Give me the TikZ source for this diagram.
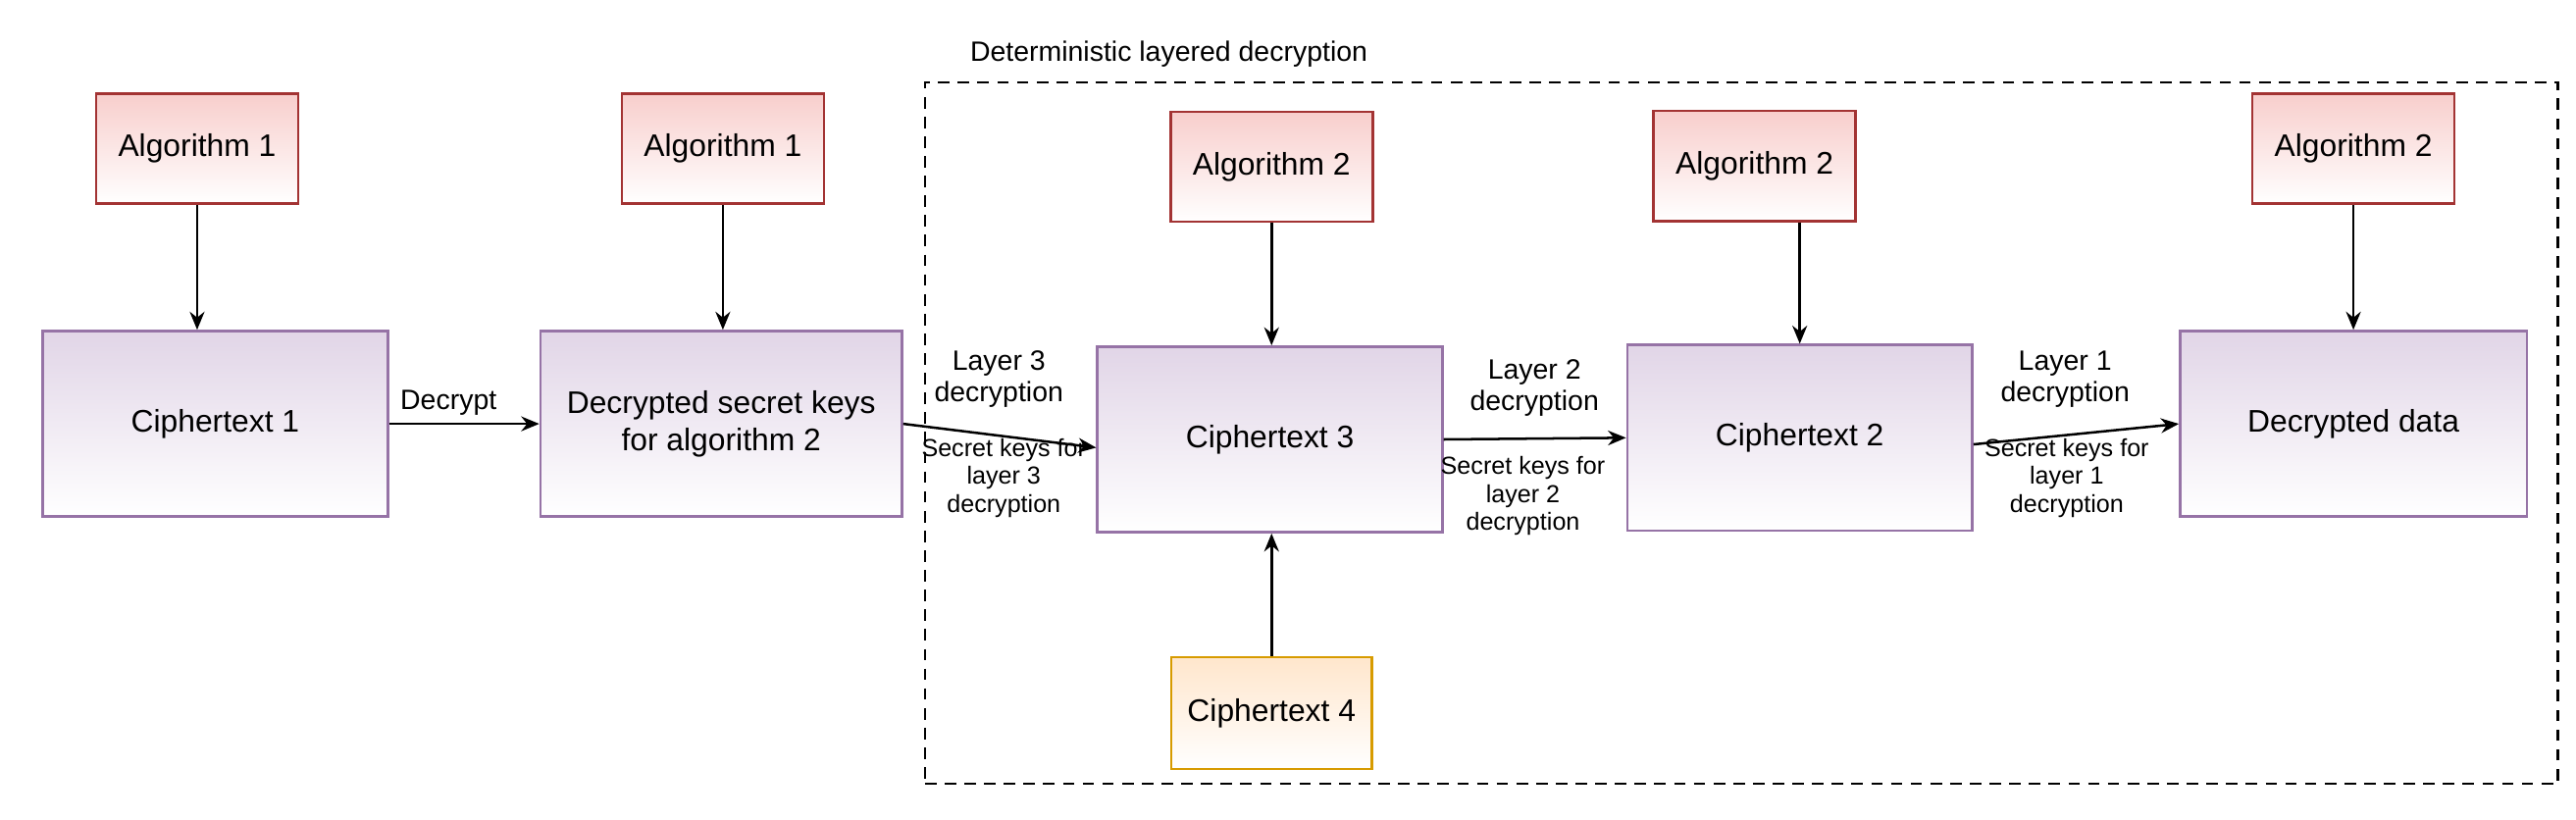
\documentclass[tikz,border=0pt]{standalone}
\usepackage{fontspec}
\setmainfont{Liberation Sans}
\usetikzlibrary{arrows.meta}
\begin{document}
\begin{tikzpicture}[x=1pt,y=-1pt,
  box/.style={draw,line width=1.5pt,inner sep=0pt,font=\fontsize{19}{23}\selectfont,align=center},
  alg/.style={box,draw=red!55!black!80,top color={rgb,255:red,248;green,206;blue,204},bottom color=white,minimum width=123pt,minimum height=67pt},
  ct/.style={box,draw={rgb,255:red,150;green,115;blue,166},top color={rgb,255:red,225;green,213;blue,231},bottom color=white,minimum width=210pt,minimum height=113pt},
  org/.style={box,draw={rgb,255:red,215;green,155;blue,0},top color={rgb,255:red,255;green,230;blue,204},bottom color=white,minimum width=122pt,minimum height=68pt},
  arr/.style={-{Stealth[length=11pt,width=9pt]},line width=1.5pt},
  lab/.style={font=\fontsize{17}{19}\selectfont,align=center},
  slab/.style={font=\fontsize{15}{17}\selectfont,align=center}]
\useasboundingbox (0,0) rectangle (1568,499);
\node[draw,dashed,dash pattern=on 7pt off 5pt,line width=1.4pt,minimum width=994pt,minimum height=427pt,inner sep=0pt] (frame) at (1060,263.5) {};
\node[lab,anchor=west] (title) at (587,33) {Deterministic layered decryption};
\node[alg] (a1) at (120,90.5) {Algorithm 1};
\node[ct] (c1) at (131,258) {Ciphertext 1};
\node[alg] (a1b) at (440,90.5) {Algorithm 1};
\node[ct,minimum width=220pt] (dk) at (439,258) {Decrypted secret keys\\for algorithm 2};
\node[alg] (a2a) at (774,101.5) {Algorithm 2};
\node[ct] (c3) at (773,267.5) {Ciphertext 3};
\node[org] (c4) at (774,434) {Ciphertext 4};
\node[alg] (a2b) at (1068,101) {Algorithm 2};
\node[ct] (c2) at (1095.5,266.5) {Ciphertext 2};
\node[alg] (a2c) at (1432.5,90.5) {Algorithm 2};
\node[ct,minimum width=211pt] (dd) at (1432.5,258) {Decrypted data};
\draw[arr] (a1) -- (c1.north -| a1);
\draw[arr] (a1b) -- (dk.north -| a1b);
\draw[arr] (a2a) -- (c3.north -| a2a);
\draw[arr] (c4) -- (c3.south -| c4);
\draw[arr] (a2b.south -| c2.north) -- (c2.north);
\draw[arr] (a2c) -- (dd.north -| a2c);
\draw[arr] (c1.east) -- (dk.west);
\draw[arr] (dk.east) -- ([yshift=-5pt]c3.west);
\draw[arr] (c3.east) -- (c2.west);
\draw[arr] ([yshift=-4pt]c2.east) -- (dd.west);
\node[lab] (ld) at (273,245) {Decrypt};
\node[lab] (l3) at (608,231) {Layer 3\\decryption};
\node[slab] (s3) at (611,291) {Secret keys for\\layer 3\\decryption};
\node[lab] (l2) at (934,236) {Layer 2\\decryption};
\node[slab] (s2) at (927,302) {Secret keys for\\layer 2\\decryption};
\node[lab] (l1) at (1257,231) {Layer 1\\decryption};
\node[slab] (s1) at (1258,291) {Secret keys for\\layer 1\\decryption};
\end{tikzpicture}
\end{document}
